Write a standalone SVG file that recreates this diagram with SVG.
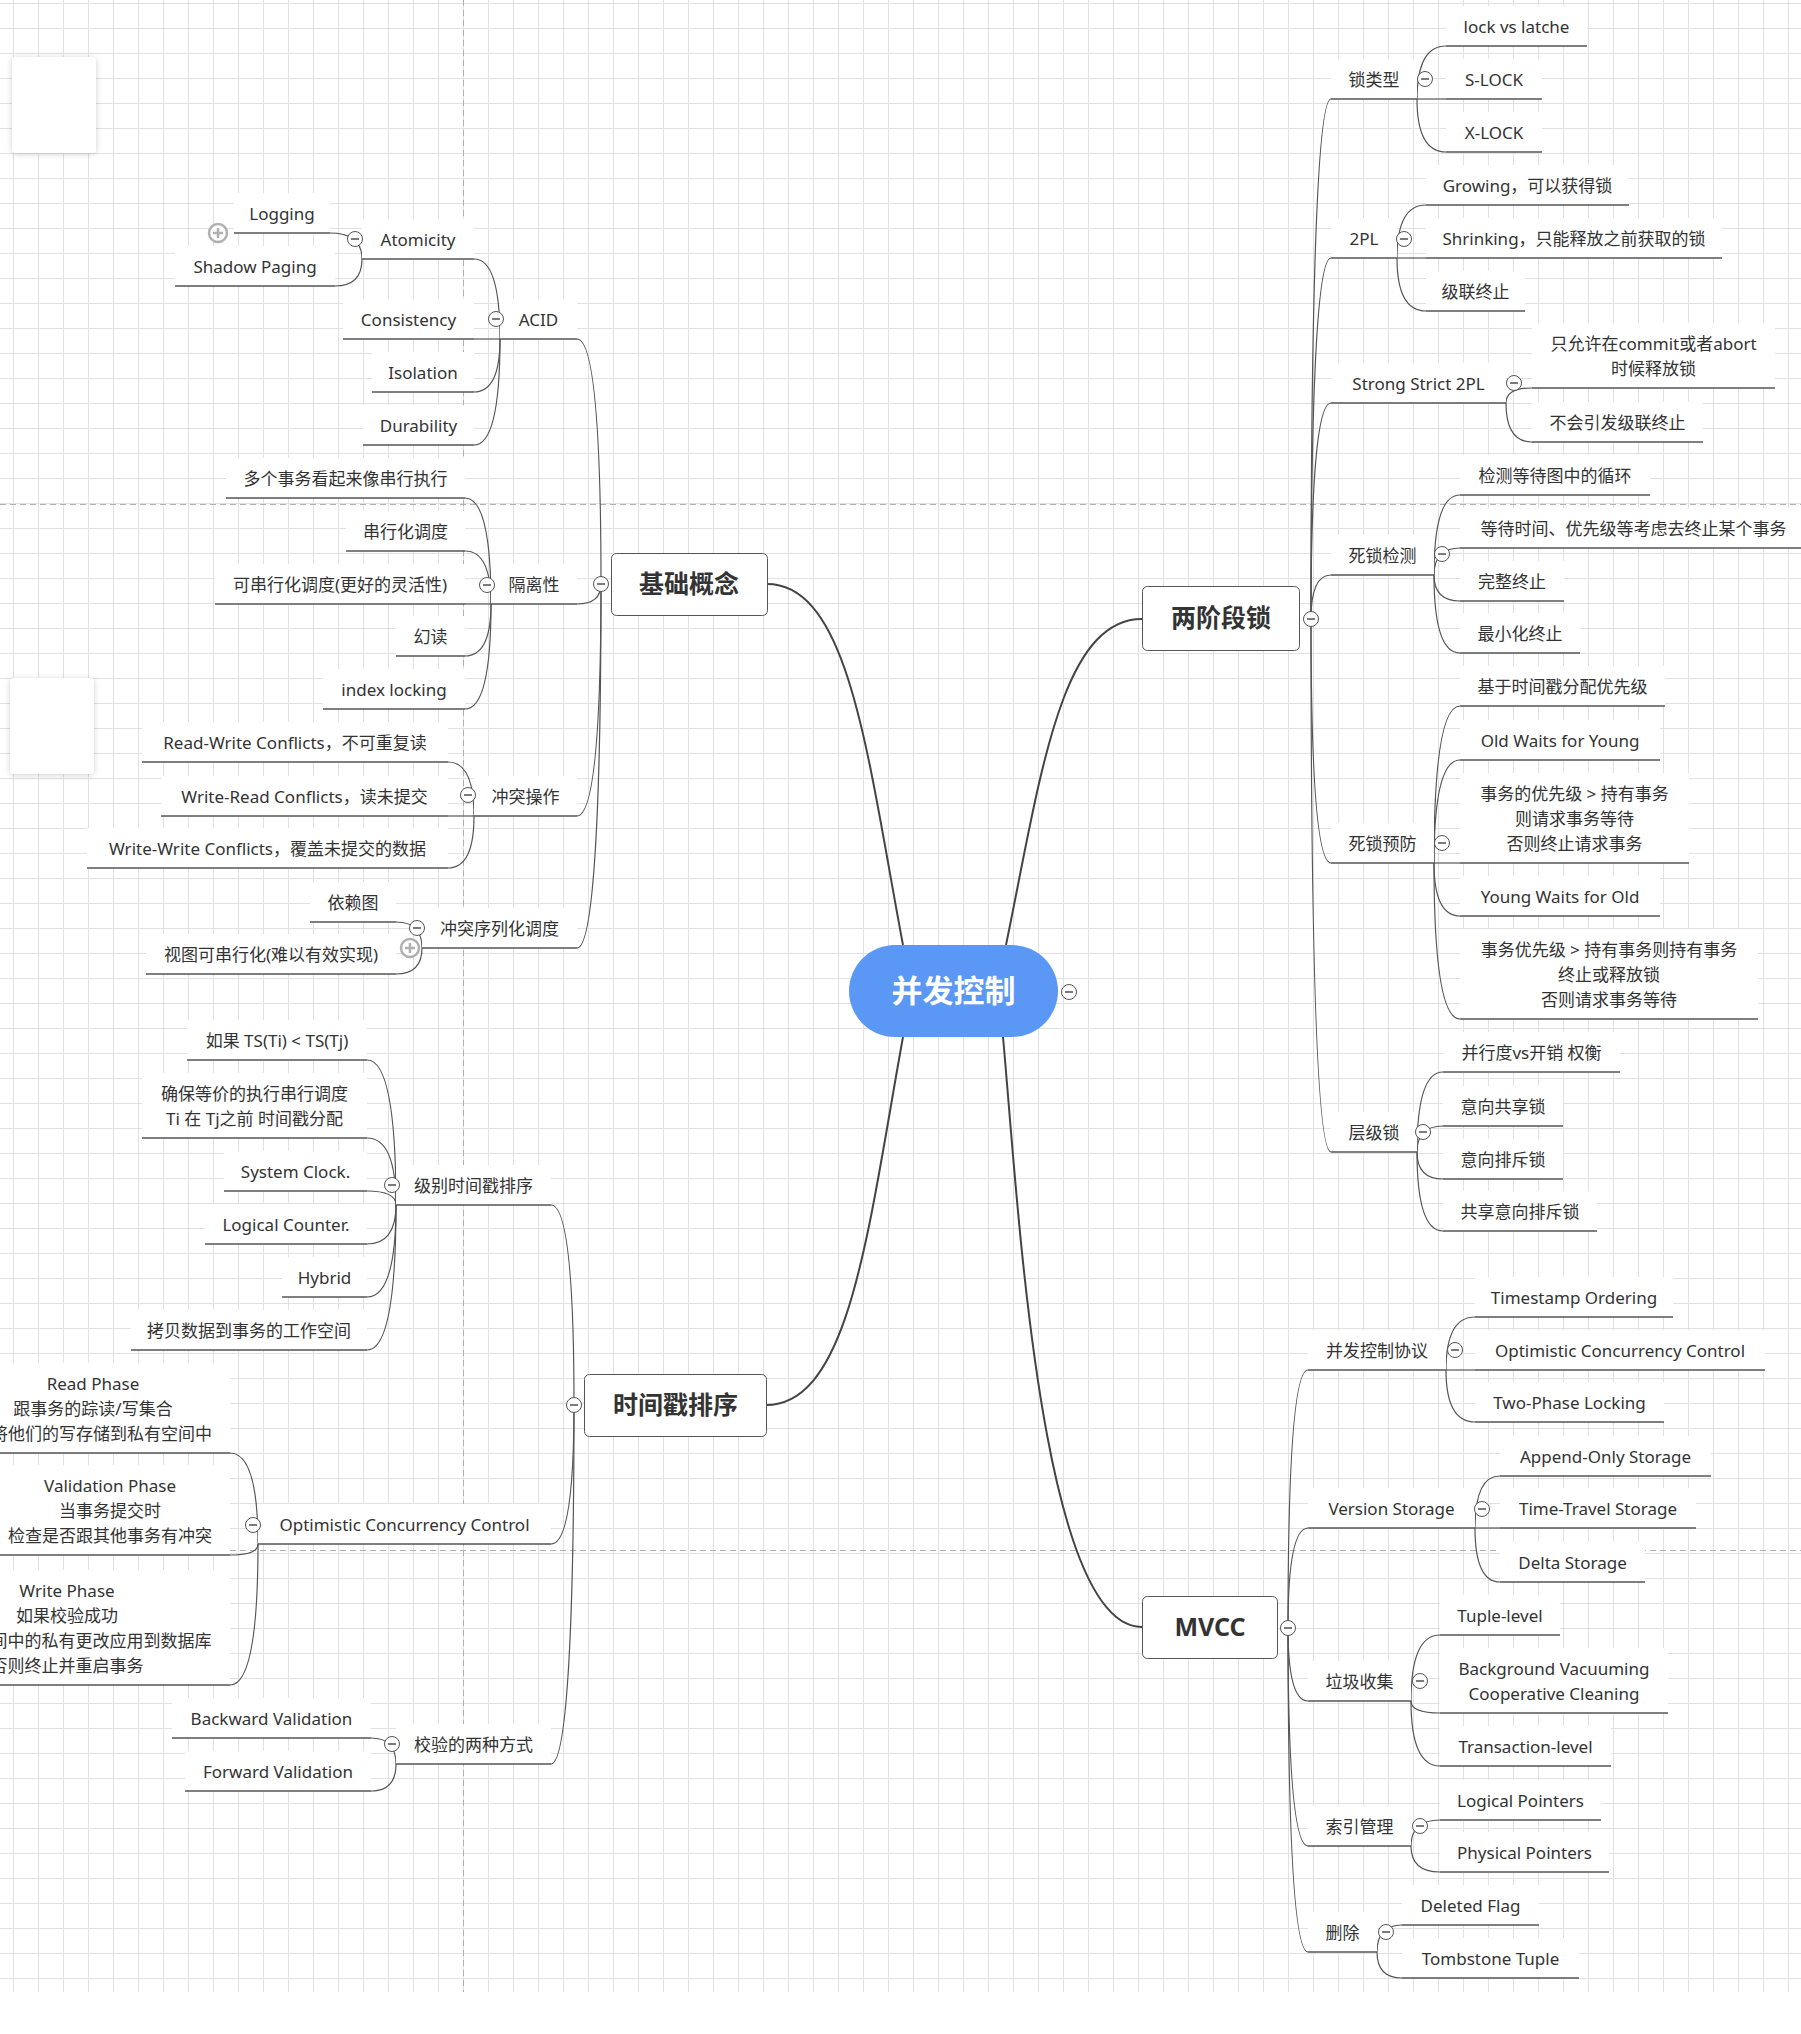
<svg xmlns="http://www.w3.org/2000/svg" width="1801" height="2034" viewBox="0 0 1801 2034">
<defs>
<style>
.t{font-family:"Noto Sans","Noto Sans CJK SC",sans-serif;font-size:17px;fill:#333;text-anchor:middle}
.nt{font-family:"Noto Sans","Noto Sans CJK SC",sans-serif;font-size:25px;font-weight:700;fill:#333;text-anchor:middle}
.bx{fill:#fff}
.ul{fill:none;stroke:#555;stroke-width:1.3}
.cn{fill:none;stroke:#555;stroke-width:1.2}
.mc{fill:none;stroke:#444;stroke-width:2}
.node{fill:#fff;stroke:#555;stroke-width:1}
.pb{fill:none;stroke:#b0b0b0;stroke-width:1;stroke-dasharray:6 4}
</style>
<pattern id="grid" x="13" y="3" width="25" height="25" patternUnits="userSpaceOnUse">
<path d="M0.5 0V25M0 0.5H25" fill="none" stroke="#e1e1e1" stroke-width="1"/>
</pattern>
<filter id="sh" x="-30%" y="-30%" width="160%" height="160%">
<feDropShadow dx="0" dy="1" stdDeviation="3" flood-color="#000" flood-opacity="0.18"/>
</filter>
<g id="mi"><circle r="7.5" fill="#fff" stroke="#555" stroke-width="1"/><path d="M-4 0H4" stroke="#333" stroke-width="1.3"/></g>
<g id="pl"><circle r="9" fill="#fff" stroke="#b0b0b0" stroke-width="2.5"/><path d="M-5 0H5M0 -5V5" stroke="#b0b0b0" stroke-width="2.5"/></g>
</defs>

<g id="background">
<rect x="0" y="0" width="1801" height="2034" fill="#fff"/>
<rect x="0" y="0" width="1801" height="1992" fill="url(#grid)"/>
<path class="pb" d="M463.5 0V1992M0 504.5H1801M0 1550.5H1801"/>
<rect x="12" y="57" width="84" height="96" rx="4" fill="#fff" filter="url(#sh)"/>
<rect x="10" y="678" width="84" height="96" rx="4" fill="#fff" filter="url(#sh)"/>
</g>

<g id="connectors">
<path class="mc" d="M767 584C850 584 868 760 903 945"/>
<path class="mc" d="M1142 619C1060 619 1040 780 1006 945"/>
<path class="mc" d="M766 1405C850 1405 868 1230 903 1037"/>
<path class="mc" d="M1142 1627C1040 1627 1018 1200 1003 1037"/>

<path class="cn" d="M601 584C601 461.5 596.2 339 577 339"/>
<path class="cn" d="M601 584C601 594 596.2 604 577 604"/>
<path class="cn" d="M601 584C601 700 596.2 816 577 816"/>
<path class="cn" d="M601 584C601 766 596.2 948 577 948"/>

<path class="cn" d="M500 339C500 299 494.8 259 474 259"/>
<path class="cn" d="M500 339H474"/>
<path class="cn" d="M500 339C500 365.5 494.8 392 474 392"/>
<path class="cn" d="M500 339C500 392 494.8 445 474 445"/>

<path class="cn" d="M362 259C362 246 355.6 233 330 233"/>
<path class="cn" d="M362 259C362 272.5 356.6 286 335 286"/>

<path class="cn" d="M491 604C491 551 485.8 498 465 498"/>
<path class="cn" d="M491 604C491 577.5 485.8 551 465 551"/>
<path class="cn" d="M491 604H465"/>
<path class="cn" d="M491 604C491 630 485.8 656 465 656"/>
<path class="cn" d="M491 604C491 656.5 485.8 709 465 709"/>

<path class="cn" d="M474 816C474 789 468.8 762 448 762"/>
<path class="cn" d="M474 816H448"/>
<path class="cn" d="M474 816C474 842 468.8 868 448 868"/>

<path class="cn" d="M422 948C422 935 416.8 922 396 922"/>
<path class="cn" d="M422 948C422 961 416.8 974 396 974"/>

<path class="cn" d="M574 1405C574 1305 569.4 1205 551 1205"/>
<path class="cn" d="M574 1405C574 1474.5 569.4 1544 551 1544"/>
<path class="cn" d="M574 1405C574 1584.5 569.4 1764 551 1764"/>

<path class="cn" d="M396 1205C396 1132.5 390.2 1060 367 1060"/>
<path class="cn" d="M396 1205C396 1171.5 390.2 1138 367 1138"/>
<path class="cn" d="M396 1205C396 1198 390.2 1191 367 1191"/>
<path class="cn" d="M396 1205C396 1224.5 390.2 1244 367 1244"/>
<path class="cn" d="M396 1205C396 1251 390.2 1297 367 1297"/>
<path class="cn" d="M396 1205C396 1277.5 390.2 1350 367 1350"/>

<path class="cn" d="M258 1544C258 1498.5 252.4 1453 230 1453"/>
<path class="cn" d="M258 1544C258 1549.5 252.4 1555 230 1555"/>
<path class="cn" d="M258 1544C258 1614.5 252.4 1685 230 1685"/>

<path class="cn" d="M396 1764C396 1751 391 1738 371 1738"/>
<path class="cn" d="M396 1764C396 1777.5 391 1791 371 1791"/>

<path class="cn" d="M1311 619C1311 359 1315 99 1331 99"/>
<path class="cn" d="M1311 619C1311 438.5 1315 258 1331 258"/>
<path class="cn" d="M1311 619C1311 511 1315 403 1331 403"/>
<path class="cn" d="M1311 619C1311 597 1315 575 1331 575"/>
<path class="cn" d="M1311 619C1311 741 1315 863 1331 863"/>
<path class="cn" d="M1311 619C1311 885.5 1315 1152 1331 1152"/>

<path class="cn" d="M1417 99C1417 72.5 1422.8 46 1446 46"/>
<path class="cn" d="M1417 99H1446"/>
<path class="cn" d="M1417 99C1417 125.5 1422.8 152 1446 152"/>

<path class="cn" d="M1397 258C1397 231.5 1402.8 205 1426 205"/>
<path class="cn" d="M1397 258H1426"/>
<path class="cn" d="M1397 258C1397 284.5 1402.8 311 1426 311"/>

<path class="cn" d="M1506 403C1506 395.5 1511.2 388 1532 388"/>
<path class="cn" d="M1506 403C1506 422.5 1511.2 442 1532 442"/>

<path class="cn" d="M1434 575C1434 535 1439.2 495 1460 495"/>
<path class="cn" d="M1434 575C1434 561.5 1439.2 548 1460 548"/>
<path class="cn" d="M1434 575C1434 588 1439.2 601 1460 601"/>
<path class="cn" d="M1434 575C1434 614 1439.2 653 1460 653"/>

<path class="cn" d="M1434 863C1434 784.5 1439.2 706 1460 706"/>
<path class="cn" d="M1434 863C1434 811.5 1439.2 760 1460 760"/>
<path class="cn" d="M1434 863H1460"/>
<path class="cn" d="M1434 863C1434 889.5 1439.2 916 1460 916"/>
<path class="cn" d="M1434 863C1434 941 1439.2 1019 1460 1019"/>

<path class="cn" d="M1417 1152C1417 1112 1422.2 1072 1443 1072"/>
<path class="cn" d="M1417 1152C1417 1139 1422.2 1126 1443 1126"/>
<path class="cn" d="M1417 1152C1417 1165.5 1422.2 1179 1443 1179"/>
<path class="cn" d="M1417 1152C1417 1191.5 1422.2 1231 1443 1231"/>

<path class="cn" d="M1288 1628C1288 1499 1292 1370 1308 1370"/>
<path class="cn" d="M1288 1628C1288 1578 1292 1528 1308 1528"/>
<path class="cn" d="M1288 1628C1288 1664.5 1292 1701 1308 1701"/>
<path class="cn" d="M1288 1628C1288 1737 1292 1846 1308 1846"/>
<path class="cn" d="M1288 1628C1288 1790 1292 1952 1308 1952"/>

<path class="cn" d="M1446 1370C1446 1343.5 1451.8 1317 1475 1317"/>
<path class="cn" d="M1446 1370H1475"/>
<path class="cn" d="M1446 1370C1446 1396 1451.8 1422 1475 1422"/>

<path class="cn" d="M1475 1528C1475 1502 1480 1476 1500 1476"/>
<path class="cn" d="M1475 1528H1500"/>
<path class="cn" d="M1475 1528C1475 1555 1480 1582 1500 1582"/>

<path class="cn" d="M1411 1701C1411 1668 1416.8 1635 1440 1635"/>
<path class="cn" d="M1411 1701C1411 1707 1416.8 1713 1440 1713"/>
<path class="cn" d="M1411 1701C1411 1733.5 1416.8 1766 1440 1766"/>

<path class="cn" d="M1411 1846C1411 1833 1416.8 1820 1440 1820"/>
<path class="cn" d="M1411 1846C1411 1859 1416.8 1872 1440 1872"/>

<path class="cn" d="M1377 1952C1377 1938.5 1382 1925 1402 1925"/>
<path class="cn" d="M1377 1952C1377 1965 1382 1978 1402 1978"/>
</g>

<g id="root">
<rect x="849" y="945" width="209" height="92" rx="46" fill="#5b97f5"/>
<text x="953.5" y="1002" font-family="Noto Sans CJK SC, sans-serif" font-size="31" font-weight="700" fill="#fff" text-anchor="middle">并发控制</text>
<use href="#mi" x="1069" y="992"/>
</g>

<g id="basics">
<rect class="node" x="611.5" y="553.5" width="156" height="62" rx="5"/>
<text class="nt" x="689" y="593">基础概念</text>
<use href="#mi" x="601" y="584"/>
</g>
<g id="two-phase-locking">
<rect class="node" x="1142.5" y="586.5" width="157" height="64" rx="5"/>
<text class="nt" x="1221" y="627">两阶段锁</text>
<use href="#mi" x="1311" y="619"/>
</g>
<g id="timestamp-ordering">
<rect class="node" x="584.5" y="1374.5" width="182" height="62" rx="5"/>
<text class="nt" x="675.5" y="1414">时间戳排序</text>
<use href="#mi" x="574" y="1405"/>
</g>
<g id="mvcc">
<rect class="node" x="1142.5" y="1596.5" width="135" height="62" rx="5"/>
<text class="nt" x="1210" y="1636">MVCC</text>
<use href="#mi" x="1288" y="1628"/>
</g>

<g id="n-logging"><rect class="bx" x="234" y="193" width="96" height="40"/><text class="t" x="282" y="220">Logging</text><path class="ul" d="M234 233H330"/><use href="#pl" x="218" y="233"/></g>
<g id="n-shadow"><rect class="bx" x="175" y="246" width="160" height="40"/><text class="t" x="255" y="273">Shadow Paging</text><path class="ul" d="M175 286H335"/></g>
<g id="n-atomicity"><rect class="bx" x="362" y="219" width="112" height="40"/><text class="t" x="418" y="246">Atomicity</text><path class="ul" d="M362 259H474"/><use href="#mi" x="355" y="239"/></g>
<g id="n-consistency"><rect class="bx" x="343" y="299" width="131" height="40"/><text class="t" x="408.5" y="326">Consistency</text><path class="ul" d="M343 339H474"/></g>
<g id="n-isolation"><rect class="bx" x="372" y="352" width="102" height="40"/><text class="t" x="423" y="379">Isolation</text><path class="ul" d="M372 392H474"/></g>
<g id="n-durability"><rect class="bx" x="363" y="405" width="111" height="40"/><text class="t" x="418.5" y="432">Durability</text><path class="ul" d="M363 445H474"/></g>
<g id="n-acid"><rect class="bx" x="500" y="299" width="77" height="40"/><text class="t" x="538.5" y="326">ACID</text><path class="ul" d="M500 339H577"/><use href="#mi" x="496" y="319"/></g>

<g id="n-serial-look"><rect class="bx" x="226" y="458" width="239" height="40"/><text class="t" x="345.5" y="485">多个事务看起来像串行执行</text><path class="ul" d="M226 498H465"/></g>
<g id="n-serial-sched"><rect class="bx" x="346" y="511" width="119" height="40"/><text class="t" x="405.5" y="538">串行化调度</text><path class="ul" d="M346 551H465"/></g>
<g id="n-serializable"><rect class="bx" x="215" y="564" width="250" height="40"/><text class="t" x="340" y="591">可串行化调度(更好的灵活性)</text><path class="ul" d="M215 604H465"/></g>
<g id="n-phantom"><rect class="bx" x="396" y="616" width="69" height="40"/><text class="t" x="430.5" y="643">幻读</text><path class="ul" d="M396 656H465"/></g>
<g id="n-index-locking"><rect class="bx" x="323" y="669" width="142" height="40"/><text class="t" x="394" y="696">index locking</text><path class="ul" d="M323 709H465"/></g>
<g id="n-isolation-cn"><rect class="bx" x="491" y="564" width="86" height="40"/><text class="t" x="534" y="591">隔离性</text><path class="ul" d="M491 604H577"/><use href="#mi" x="487" y="585"/></g>

<g id="n-rw"><rect class="bx" x="142" y="722" width="306" height="40"/><text class="t" x="295" y="749">Read-Write Conflicts，不可重复读</text><path class="ul" d="M142 762H448"/></g>
<g id="n-wr"><rect class="bx" x="161" y="776" width="287" height="40"/><text class="t" x="304.5" y="803">Write-Read Conflicts，读未提交</text><path class="ul" d="M161 816H448"/></g>
<g id="n-ww"><rect class="bx" x="87" y="828" width="361" height="40"/><text class="t" x="267.5" y="855">Write-Write Conflicts，覆盖未提交的数据</text><path class="ul" d="M87 868H448"/></g>
<g id="n-conflict-ops"><rect class="bx" x="474" y="776" width="103" height="40"/><text class="t" x="525.5" y="803">冲突操作</text><path class="ul" d="M474 816H577"/><use href="#mi" x="468" y="795"/></g>

<g id="n-dep-graph"><rect class="bx" x="310" y="882" width="86" height="40"/><text class="t" x="353" y="909">依赖图</text><path class="ul" d="M310 922H396"/></g>
<g id="n-view-ser"><rect class="bx" x="146" y="934" width="250" height="40"/><text class="t" x="271" y="961">视图可串行化(难以有效实现)</text><path class="ul" d="M146 974H396"/></g>
<g id="n-conflict-ser"><rect class="bx" x="422" y="908" width="155" height="40"/><text class="t" x="499.5" y="935">冲突序列化调度</text><path class="ul" d="M422 948H577"/><use href="#mi" x="417" y="928"/><use href="#pl" x="410" y="948"/></g>

<g id="n-ts-if"><rect class="bx" x="187" y="1020" width="180" height="40"/><text class="t" x="277" y="1047">如果 TS(Ti) &lt; TS(Tj)</text><path class="ul" d="M187 1060H367"/></g>
<g id="n-ts-ensure"><rect class="bx" x="142" y="1073" width="225" height="65"/><text class="t"><tspan x="254.5" y="1100">确保等价的执行串行调度</tspan><tspan x="254.5" y="1125">Ti 在 Tj之前 时间戳分配</tspan></text><path class="ul" d="M142 1138H367"/></g>
<g id="n-sysclock"><rect class="bx" x="224" y="1151" width="143" height="40"/><text class="t" x="295.5" y="1178">System Clock.</text><path class="ul" d="M224 1191H367"/></g>
<g id="n-logical-counter"><rect class="bx" x="205" y="1204" width="162" height="40"/><text class="t" x="286" y="1231">Logical Counter.</text><path class="ul" d="M205 1244H367"/></g>
<g id="n-hybrid"><rect class="bx" x="282" y="1257" width="85" height="40"/><text class="t" x="324.5" y="1284">Hybrid</text><path class="ul" d="M282 1297H367"/></g>
<g id="n-copy"><rect class="bx" x="131" y="1310" width="236" height="40"/><text class="t" x="249" y="1337">拷贝数据到事务的工作空间</text><path class="ul" d="M131 1350H367"/></g>
<g id="n-level-ts"><rect class="bx" x="396" y="1165" width="155" height="40"/><text class="t" x="473.5" y="1192">级别时间戳排序</text><path class="ul" d="M396 1205H551"/><use href="#mi" x="392" y="1185"/></g>

<g id="n-read-phase"><rect class="bx" x="-44" y="1363" width="274" height="90"/><text class="t"><tspan x="93" y="1390">Read Phase</tspan><tspan x="93" y="1415">跟事务的踪读/写集合</tspan><tspan x="93" y="1440">并将他们的写存储到私有空间中</tspan></text><path class="ul" d="M-44 1453H230"/></g>
<g id="n-validation"><rect class="bx" x="-10" y="1465" width="240" height="90"/><text class="t"><tspan x="110" y="1492">Validation Phase</tspan><tspan x="110" y="1517">当事务提交时</tspan><tspan x="110" y="1542">检查是否跟其他事务有冲突</tspan></text><path class="ul" d="M-10 1555H230"/></g>
<g id="n-write-phase"><rect class="bx" x="-96" y="1570" width="326" height="115"/><text class="t"><tspan x="67" y="1597">Write Phase</tspan><tspan x="67" y="1622">如果校验成功</tspan><tspan x="67" y="1647">将工作空间中的私有更改应用到数据库</tspan><tspan x="67" y="1672">否则终止并重启事务</tspan></text><path class="ul" d="M-96 1685H230"/></g>
<g id="n-occ-left"><rect class="bx" x="258" y="1504" width="293" height="40"/><text class="t" x="404.5" y="1531">Optimistic Concurrency Control</text><path class="ul" d="M258 1544H551"/><use href="#mi" x="253" y="1525"/></g>
<g id="n-backward"><rect class="bx" x="172" y="1698" width="199" height="40"/><text class="t" x="271.5" y="1725">Backward Validation</text><path class="ul" d="M172 1738H371"/></g>
<g id="n-forward"><rect class="bx" x="185" y="1751" width="186" height="40"/><text class="t" x="278" y="1778">Forward Validation</text><path class="ul" d="M185 1791H371"/></g>
<g id="n-validate-two"><rect class="bx" x="396" y="1724" width="155" height="40"/><text class="t" x="473.5" y="1751">校验的两种方式</text><path class="ul" d="M396 1764H551"/><use href="#mi" x="392" y="1744"/></g>

<g id="n-lock-vs-latch"><rect class="bx" x="1446" y="6" width="141" height="40"/><text class="t" x="1516.5" y="33">lock vs latche</text><path class="ul" d="M1446 46H1587"/></g>
<g id="n-s-lock"><rect class="bx" x="1446" y="59" width="96" height="40"/><text class="t" x="1494" y="86">S-LOCK</text><path class="ul" d="M1446 99H1542"/></g>
<g id="n-x-lock"><rect class="bx" x="1446" y="112" width="96" height="40"/><text class="t" x="1494" y="139">X-LOCK</text><path class="ul" d="M1446 152H1542"/></g>
<g id="n-lock-types"><rect class="bx" x="1331" y="59" width="86" height="40"/><text class="t" x="1374" y="86">锁类型</text><path class="ul" d="M1331 99H1417"/><use href="#mi" x="1425" y="79"/></g>
<g id="n-growing"><rect class="bx" x="1426" y="165" width="203" height="40"/><text class="t" x="1527.5" y="192">Growing，可以获得锁</text><path class="ul" d="M1426 205H1629"/></g>
<g id="n-shrinking"><rect class="bx" x="1426" y="218" width="296" height="40"/><text class="t" x="1574" y="245">Shrinking，只能释放之前获取的锁</text><path class="ul" d="M1426 258H1722"/></g>
<g id="n-cascade"><rect class="bx" x="1426" y="271" width="99" height="40"/><text class="t" x="1475.5" y="298">级联终止</text><path class="ul" d="M1426 311H1525"/></g>
<g id="n-2pl"><rect class="bx" x="1331" y="218" width="66" height="40"/><text class="t" x="1364" y="245">2PL</text><path class="ul" d="M1331 258H1397"/><use href="#mi" x="1404" y="239"/></g>
<g id="n-ss-allow"><rect class="bx" x="1532" y="323" width="243" height="65"/><text class="t"><tspan x="1653.5" y="350">只允许在commit或者abort</tspan><tspan x="1653.5" y="375">时候释放锁</tspan></text><path class="ul" d="M1532 388H1775"/></g>
<g id="n-ss-nocascade"><rect class="bx" x="1532" y="402" width="171" height="40"/><text class="t" x="1617.5" y="429">不会引发级联终止</text><path class="ul" d="M1532 442H1703"/></g>
<g id="n-ss2pl"><rect class="bx" x="1331" y="363" width="175" height="40"/><text class="t" x="1418.5" y="390">Strong Strict 2PL</text><path class="ul" d="M1331 403H1506"/><use href="#mi" x="1514" y="383"/></g>
<g id="n-detect-cycle"><rect class="bx" x="1460" y="455" width="190" height="40"/><text class="t" x="1555" y="482">检测等待图中的循环</text><path class="ul" d="M1460 495H1650"/></g>
<g id="n-wait-time"><rect class="bx" x="1460" y="508" width="347" height="40"/><text class="t" x="1633.5" y="535">等待时间、优先级等考虑去终止某个事务</text><path class="ul" d="M1460 548H1807"/></g>
<g id="n-full-abort"><rect class="bx" x="1460" y="561" width="104" height="40"/><text class="t" x="1512" y="588">完整终止</text><path class="ul" d="M1460 601H1564"/></g>
<g id="n-min-abort"><rect class="bx" x="1460" y="613" width="120" height="40"/><text class="t" x="1520" y="640">最小化终止</text><path class="ul" d="M1460 653H1580"/></g>
<g id="n-deadlock-detect"><rect class="bx" x="1331" y="535" width="103" height="40"/><text class="t" x="1382.5" y="562">死锁检测</text><path class="ul" d="M1331 575H1434"/><use href="#mi" x="1442" y="554"/></g>
<g id="n-ts-priority"><rect class="bx" x="1460" y="666" width="205" height="40"/><text class="t" x="1562.5" y="693">基于时间戳分配优先级</text><path class="ul" d="M1460 706H1665"/></g>
<g id="n-old-waits"><rect class="bx" x="1460" y="720" width="200" height="40"/><text class="t" x="1560" y="747">Old Waits for Young</text><path class="ul" d="M1460 760H1660"/></g>
<g id="n-wait-die"><rect class="bx" x="1460" y="773" width="229" height="90"/><text class="t"><tspan x="1574.5" y="800">事务的优先级 &gt; 持有事务</tspan><tspan x="1574.5" y="825">则请求事务等待</tspan><tspan x="1574.5" y="850">否则终止请求事务</tspan></text><path class="ul" d="M1460 863H1689"/></g>
<g id="n-young-waits"><rect class="bx" x="1460" y="876" width="200" height="40"/><text class="t" x="1560" y="903">Young Waits for Old</text><path class="ul" d="M1460 916H1660"/></g>
<g id="n-wound-wait"><rect class="bx" x="1460" y="929" width="298" height="90"/><text class="t"><tspan x="1609" y="956">事务优先级 &gt; 持有事务则持有事务</tspan><tspan x="1609" y="981">终止或释放锁</tspan><tspan x="1609" y="1006">否则请求事务等待</tspan></text><path class="ul" d="M1460 1019H1758"/></g>
<g id="n-deadlock-prevent"><rect class="bx" x="1331" y="823" width="103" height="40"/><text class="t" x="1382.5" y="850">死锁预防</text><path class="ul" d="M1331 863H1434"/><use href="#mi" x="1442" y="843"/></g>
<g id="n-tradeoff"><rect class="bx" x="1443" y="1032" width="177" height="40"/><text class="t" x="1531.5" y="1059">并行度vs开销 权衡</text><path class="ul" d="M1443 1072H1620"/></g>
<g id="n-is-lock"><rect class="bx" x="1443" y="1086" width="120" height="40"/><text class="t" x="1503" y="1113">意向共享锁</text><path class="ul" d="M1443 1126H1563"/></g>
<g id="n-ix-lock"><rect class="bx" x="1443" y="1139" width="120" height="40"/><text class="t" x="1503" y="1166">意向排斥锁</text><path class="ul" d="M1443 1179H1563"/></g>
<g id="n-six-lock"><rect class="bx" x="1443" y="1191" width="154" height="40"/><text class="t" x="1520" y="1218">共享意向排斥锁</text><path class="ul" d="M1443 1231H1597"/></g>
<g id="n-hier-lock"><rect class="bx" x="1331" y="1112" width="86" height="40"/><text class="t" x="1374" y="1139">层级锁</text><path class="ul" d="M1331 1152H1417"/><use href="#mi" x="1423" y="1132"/></g>

<g id="n-to"><rect class="bx" x="1475" y="1277" width="198" height="40"/><text class="t" x="1574" y="1304">Timestamp Ordering</text><path class="ul" d="M1475 1317H1673"/></g>
<g id="n-occ-right"><rect class="bx" x="1475" y="1330" width="290" height="40"/><text class="t" x="1620" y="1357">Optimistic Concurrency Control</text><path class="ul" d="M1475 1370H1765"/></g>
<g id="n-two-pl"><rect class="bx" x="1475" y="1382" width="189" height="40"/><text class="t" x="1569.5" y="1409">Two-Phase Locking</text><path class="ul" d="M1475 1422H1664"/></g>
<g id="n-cc-protocol"><rect class="bx" x="1308" y="1330" width="138" height="40"/><text class="t" x="1377" y="1357">并发控制协议</text><path class="ul" d="M1308 1370H1446"/><use href="#mi" x="1455" y="1350"/></g>
<g id="n-append-only"><rect class="bx" x="1500" y="1436" width="211" height="40"/><text class="t" x="1605.5" y="1463">Append-Only Storage</text><path class="ul" d="M1500 1476H1711"/></g>
<g id="n-time-travel"><rect class="bx" x="1500" y="1488" width="196" height="40"/><text class="t" x="1598" y="1515">Time-Travel Storage</text><path class="ul" d="M1500 1528H1696"/></g>
<g id="n-delta"><rect class="bx" x="1500" y="1542" width="145" height="40"/><text class="t" x="1572.5" y="1569">Delta Storage</text><path class="ul" d="M1500 1582H1645"/></g>
<g id="n-version-storage"><rect class="bx" x="1308" y="1488" width="167" height="40"/><text class="t" x="1391.5" y="1515">Version Storage</text><path class="ul" d="M1308 1528H1475"/><use href="#mi" x="1482" y="1509"/></g>
<g id="n-tuple-level"><rect class="bx" x="1440" y="1595" width="120" height="40"/><text class="t" x="1500" y="1622">Tuple-level</text><path class="ul" d="M1440 1635H1560"/></g>
<g id="n-bg-vacuum"><rect class="bx" x="1440" y="1648" width="228" height="65"/><text class="t"><tspan x="1554" y="1675">Background Vacuuming</tspan><tspan x="1554" y="1700">Cooperative Cleaning</tspan></text><path class="ul" d="M1440 1713H1668"/></g>
<g id="n-txn-level"><rect class="bx" x="1440" y="1726" width="171" height="40"/><text class="t" x="1525.5" y="1753">Transaction-level</text><path class="ul" d="M1440 1766H1611"/></g>
<g id="n-gc"><rect class="bx" x="1308" y="1661" width="103" height="40"/><text class="t" x="1359.5" y="1688">垃圾收集</text><path class="ul" d="M1308 1701H1411"/><use href="#mi" x="1420" y="1681"/></g>
<g id="n-logical-ptr"><rect class="bx" x="1440" y="1780" width="161" height="40"/><text class="t" x="1520.5" y="1807">Logical Pointers</text><path class="ul" d="M1440 1820H1601"/></g>
<g id="n-physical-ptr"><rect class="bx" x="1440" y="1832" width="169" height="40"/><text class="t" x="1524.5" y="1859">Physical Pointers</text><path class="ul" d="M1440 1872H1609"/></g>
<g id="n-index-mgmt"><rect class="bx" x="1308" y="1806" width="103" height="40"/><text class="t" x="1359.5" y="1833">索引管理</text><path class="ul" d="M1308 1846H1411"/><use href="#mi" x="1420" y="1826"/></g>
<g id="n-deleted-flag"><rect class="bx" x="1402" y="1885" width="137" height="40"/><text class="t" x="1470.5" y="1912">Deleted Flag</text><path class="ul" d="M1402 1925H1539"/></g>
<g id="n-tombstone"><rect class="bx" x="1402" y="1938" width="177" height="40"/><text class="t" x="1490.5" y="1965">Tombstone Tuple</text><path class="ul" d="M1402 1978H1579"/></g>
<g id="n-delete"><rect class="bx" x="1308" y="1912" width="69" height="40"/><text class="t" x="1342.5" y="1939">删除</text><path class="ul" d="M1308 1952H1377"/><use href="#mi" x="1386" y="1932"/></g>
</svg>
